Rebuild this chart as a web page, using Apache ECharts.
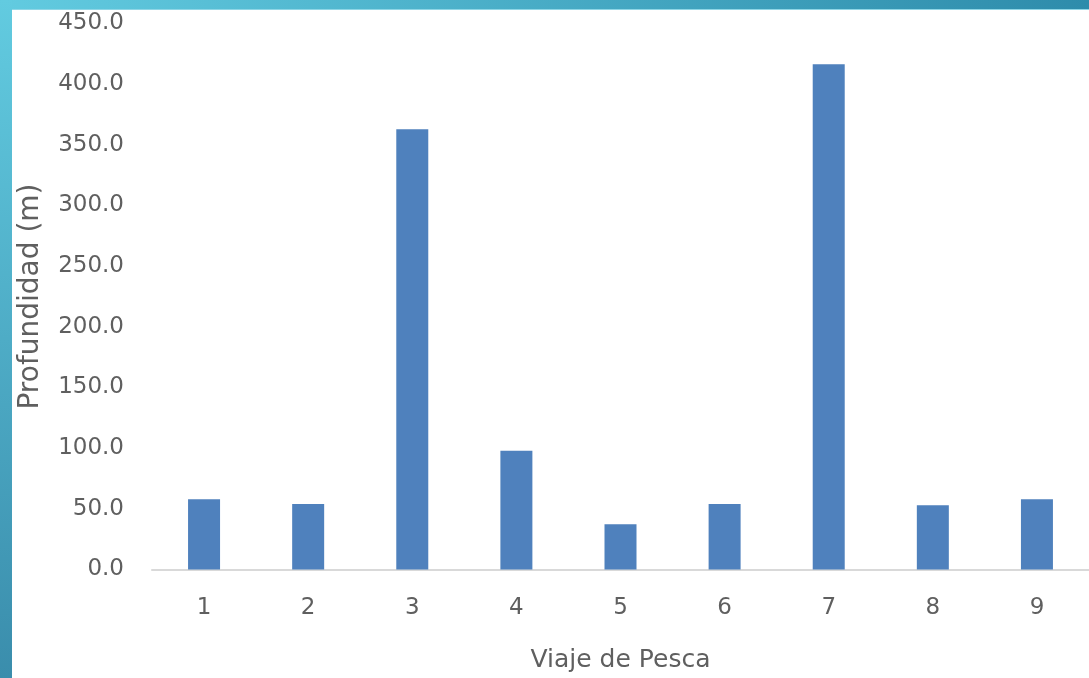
<!DOCTYPE html>
<html>
<head>
<meta charset="utf-8">
<script src="https://cdn.jsdelivr.net/npm/echarts@6/dist/echarts.min.js"></script>
<style>
html,body{margin:0;padding:0;background:#fff;}
#chart{width:1089px;height:678px;}
</style>
</head>
<body>
<div id="chart"></div>
<script>
const categories = ['1','2','3','4','5','6','7','8','9'];
const profundidad = [57.9, 54.0, 362.8, 97.9, 37.3, 54.0, 416.4, 52.9, 57.9];
const yTicks = [0, 50, 100, 150, 200, 250, 300, 350, 400, 450];

const chart = echarts.init(document.getElementById('chart'));
const font = 'DejaVu Sans';
chart.setOption({
  backgroundColor: '#ffffff',
  animation: false,
  graphic: [
    { type: 'rect', shape: { x: 0, y: 0, width: 1089, height: 9 },
      style: { fill: new echarts.graphic.LinearGradient(0, 0, 1, 0, [
        { offset: 0, color: '#62cbe0' }, { offset: 1, color: '#2e8cab' }]) } },
    { type: 'rect', shape: { x: 0, y: 9, width: 1089, height: 1 },
      style: { fill: '#8fd6e6' } },
    { type: 'rect', shape: { x: 0, y: 0, width: 12, height: 678 },
      style: { fill: new echarts.graphic.LinearGradient(0, 0, 0, 1, [
        { offset: 0, color: '#62cbe0' }, { offset: 1, color: '#3a8dac' }]) } }
  ],
  grid: { left: 152, right: 0, top: 23.5, bottom: 108.5, containLabel: false },
  xAxis: {
    type: 'category',
    data: categories,
    name: 'Viaje de Pesca',
    nameLocation: 'middle',
    nameGap: 78,
    nameTextStyle: { fontFamily: font, fontSize: 25, color: '#5f5f5f' },
    axisLine: { show: true, lineStyle: { color: '#d9d9d9', width: 2 } },
    axisTick: { show: false },
    axisLabel: { fontFamily: font, fontSize: 23, color: '#5f5f5f', margin: 27 }
  },
  yAxis: {
    type: 'value',
    min: yTicks[0],
    max: yTicks[yTicks.length - 1],
    interval: 50,
    name: 'Profundidad (m)',
    nameLocation: 'middle',
    nameGap: 107,
    nameTextStyle: { fontFamily: font, fontSize: 28, color: '#5f5f5f' },
    axisLine: { show: false },
    axisTick: { show: false },
    splitLine: { show: false },
    axisLabel: { fontFamily: font, fontSize: 23, color: '#5f5f5f', margin: 28,
      formatter: v => v.toFixed(1) }
  },
  series: [{
    type: 'bar',
    data: profundidad,
    barWidth: 32,
    itemStyle: { color: '#4f81bd' }
  }]
});
</script>
</body>
</html>
